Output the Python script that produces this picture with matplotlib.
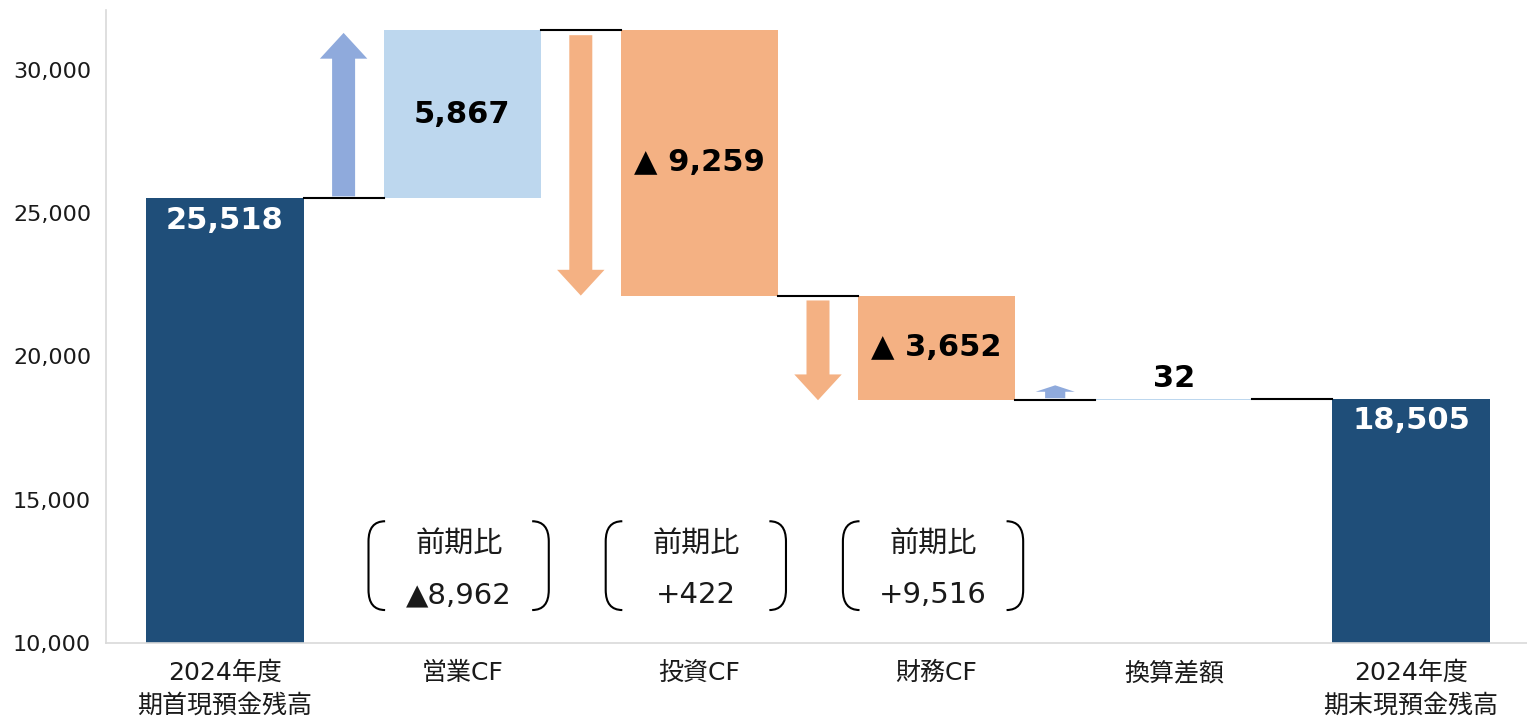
import matplotlib
matplotlib.use("Agg")
import matplotlib.pyplot as plt
from matplotlib.patches import FancyArrow, PathPatch
from matplotlib.path import Path

plt.rcParams['font.family'] = ['DejaVu Sans', 'Noto Sans CJK JP']

# data
categories = ['2024年度\n期首現預金残高', '営業CF', '投資CF', '財務CF', '換算差額', '2024年度\n期末現預金残高']
start_balance = 25518
deltas = [5867, -9259, -3652, 32]
end_balance = 18505
yoy_labels = ['▲8,962', '+422', '+9,516']   # 前期比, for 営業/投資/財務

dark_blue = '#1F4E79'
up_color = '#BDD7EE'
down_color = '#F4B183'
up_arrow = '#8FAADC'
base = 10000


def fmt(v):
    return '{:,}'.format(abs(v)) if v >= 0 else '▲ {:,}'.format(abs(v))


fig = plt.figure(figsize=(15.27, 7.28), dpi=100)
ax = fig.add_axes([106.4 / 1527, 85 / 728, 1423.2 / 1527, 633 / 728])
ax.set_xlim(-0.5, 5.5)
ax.set_ylim(base, 32094)

bw = 0.662

# total bars
ax.bar(0, start_balance - base, bottom=base, width=bw, color=dark_blue, zorder=2)
ax.bar(5, end_balance - base, bottom=base, width=bw, color=dark_blue, zorder=2)
ax.text(0, start_balance - 250, '{:,}'.format(start_balance), ha='center', va='top',
        color='white', fontsize=22, fontweight='bold', zorder=5)
ax.text(5, end_balance - 250, '{:,}'.format(end_balance), ha='center', va='top',
        color='white', fontsize=22, fontweight='bold', zorder=5)

levels = [start_balance]
for d in deltas:
    levels.append(levels[-1] + d)

for i, d in enumerate(deltas):
    k = i + 1
    lo, hi = min(levels[i], levels[i + 1]), max(levels[i], levels[i + 1])
    col = up_color if d >= 0 else down_color
    ax.bar(k, hi - lo, bottom=lo, width=bw, color=col, zorder=2)
    # connector from previous bar
    ax.plot([k - 1 + bw / 2, k - bw / 2], [levels[i], levels[i]], color='black', lw=1.5, zorder=3)
    # arrow in the gap
    length = max(abs(d), 450)
    if d >= 0:
        y0 = levels[i] + 70
        dy = length - 160 if abs(d) > 450 else length
        acol = up_arrow
    else:
        y0 = levels[i] - 170
        dy = -(length - 170)
        acol = down_color
    hl = min(900, 0.5 * abs(dy))
    hw = 0.2 if abs(d) > 450 else 0.165
    sw = 0.097 if abs(d) > 450 else 0.085
    ax.add_patch(FancyArrow(k - 0.5, y0, 0, dy, width=sw, head_width=hw, head_length=hl,
                            length_includes_head=True, color=acol, lw=0, zorder=3))
    # value label
    if abs(d) > 1000:
        ax.text(k, (lo + hi) / 2, fmt(d), ha='center', va='center', fontsize=22,
                fontweight='bold', color='black', zorder=5)
    else:
        ax.text(k, hi + 230, fmt(d), ha='center', va='bottom', fontsize=22,
                fontweight='bold', color='black', zorder=5)

# last connector
ax.plot([4 + bw / 2, 5 - bw / 2], [levels[-1], levels[-1]], color='black', lw=1.5, zorder=3)

# 前期比 brackets
y_top, y_bot = 14250, 11150
half_w, rx, ry = 0.38, 0.07, 700
for j, lab in enumerate(yoy_labels):
    xc = j + 1 - 0.015
    for side in (-1, 1):
        xe = xc + side * half_w
        xi = xe - side * rx
        verts = [(xi, y_top), (xe, y_top), (xe, y_top - ry), (xe, y_bot + ry), (xe, y_bot), (xi, y_bot)]
        codes = [Path.MOVETO, Path.CURVE3, Path.CURVE3, Path.LINETO, Path.CURVE3, Path.CURVE3]
        ax.add_patch(PathPatch(Path(verts, codes), fill=False, edgecolor='black', lw=1.5, zorder=4))
    ax.text(xc, 13420, '前期比', ha='center', va='center', fontsize=21, color='#1a1a1a')
    ax.text(xc, 11660, lab, ha='center', va='center', fontsize=21, color='#1a1a1a')

# axes styling
for s in ['top', 'right']:
    ax.spines[s].set_visible(False)
for s in ['left', 'bottom']:
    ax.spines[s].set_color('#D9D9D9')
    ax.spines[s].set_linewidth(1.2)
ax.set_yticks([10000, 15000, 20000, 25000, 30000])
ax.set_yticklabels(['{:,}'.format(v) for v in [10000, 15000, 20000, 25000, 30000]], fontsize=16, color='#1a1a1a')
ax.set_xticks(range(len(categories)))
ax.set_xticklabels(categories, fontsize=18, color='#1a1a1a', linespacing=1.45)
ax.tick_params(axis='both', length=0)
ax.tick_params(axis='x', pad=13)
ax.tick_params(axis='y', pad=11)

fig.savefig('out.png', dpi=100)
